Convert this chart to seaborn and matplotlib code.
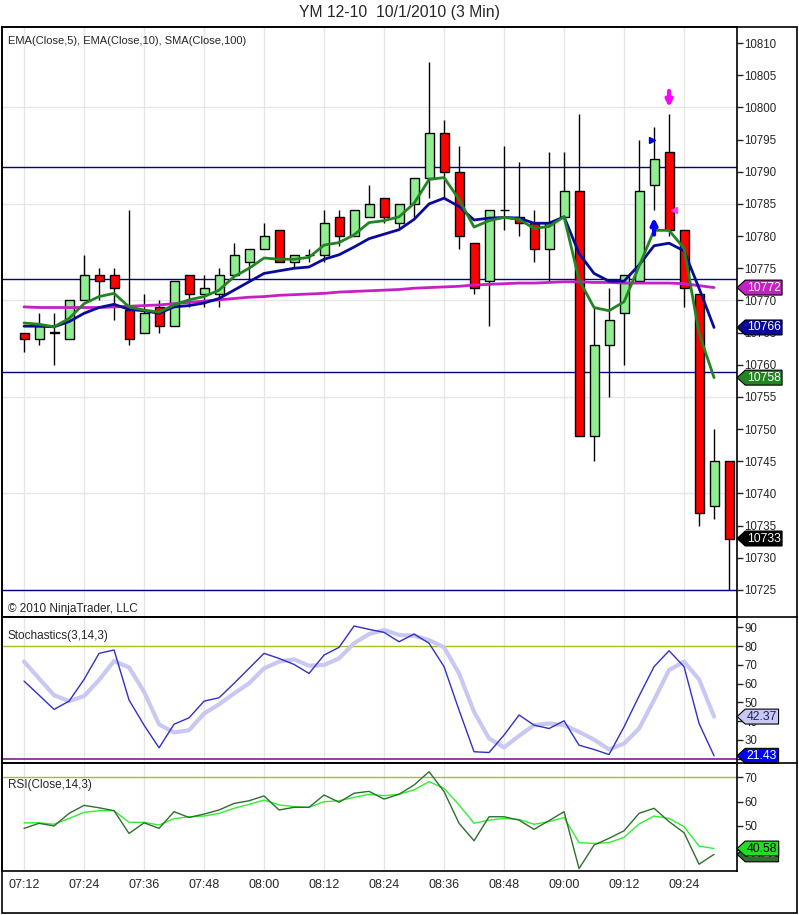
import numpy as np
import pandas as pd
import seaborn as sns
import matplotlib.pyplot as plt
from matplotlib.lines import Line2D
from matplotlib.patches import Rectangle
from matplotlib.path import Path

# --- data (3 min bars, 07:12 .. 09:33) ---
opens = [10765, 10764, 10765, 10764, 10770, 10774, 10774, 10768.5, 10765, 10769,
         10766, 10774, 10771, 10771, 10774, 10776, 10778, 10781, 10776, 10777,
         10777, 10783, 10780, 10783, 10786, 10782, 10785, 10789, 10796, 10790,
         10779, 10773, 10784, 10783, 10782, 10778, 10783, 10787, 10749, 10763,
         10768, 10773, 10788, 10793, 10781, 10771, 10738, 10745]
highs = [10765, 10768, 10768, 10770, 10777, 10775, 10775, 10784, 10771, 10770,
         10773, 10774, 10774, 10775, 10779, 10778, 10782, 10781, 10777, 10778,
         10784, 10784, 10784, 10788, 10786, 10785, 10789, 10807, 10798, 10794,
         10779, 10784, 10794, 10791.5, 10784, 10793, 10793, 10799, 10769, 10772,
         10774, 10795, 10797, 10799, 10781, 10771, 10750, 10745]
lows = [10762, 10763, 10760, 10764, 10770, 10770, 10767, 10763, 10765, 10765,
        10766, 10769, 10769, 10769, 10774, 10773, 10778, 10776, 10775, 10776,
        10776, 10778.5, 10780, 10783, 10782, 10781, 10783, 10786, 10786, 10778,
        10771, 10766, 10781, 10780, 10776, 10773, 10783, 10749, 10745, 10755,
        10760, 10773, 10784, 10780, 10769, 10735, 10736, 10725]
closes = [10764, 10766, 10765, 10770, 10774, 10773, 10772, 10764, 10768, 10766,
          10773, 10771, 10772, 10774, 10777, 10778, 10780, 10776, 10777, 10777,
          10782, 10780, 10784, 10785, 10783, 10785, 10789, 10796, 10790, 10780,
          10772, 10784, 10784, 10782, 10778, 10782, 10787, 10749, 10763, 10767,
          10774, 10787, 10792, 10781, 10772, 10737, 10745, 10733]

ema5 = [10766.5, 10766.3, 10765.9, 10767.2, 10769.5, 10770.6, 10771.1, 10769.0, 10768.5, 10768.2,
        10769.3, 10770.1, 10770.6, 10771.6, 10773.7, 10775.0, 10776.6, 10776.4, 10776.4, 10776.7,
        10778.6, 10779.0, 10780.2, 10782.1, 10782.4, 10783.0, 10785.1, 10788.8, 10789.1, 10785.7,
        10781.4, 10782.4, 10782.9, 10782.6, 10781.2, 10781.5, 10783.0, 10773.2, 10768.9, 10768.4,
        10769.8, 10775.3, 10780.9, 10780.9, 10778.1, 10764.9, 10758.0]
ema10 = [10766.0, 10766.0, 10765.9, 10766.7, 10768.0, 10768.9, 10769.4, 10768.6, 10768.4, 10768.0,
         10769.0, 10769.2, 10769.6, 10770.3, 10771.6, 10772.9, 10774.2, 10774.6, 10775.0, 10775.2,
         10776.4, 10777.1, 10778.3, 10779.6, 10780.3, 10781.0, 10782.6, 10785.0, 10785.9, 10784.6,
         10782.5, 10782.8, 10782.9, 10782.8, 10782.0, 10782.0, 10783.0, 10777.3, 10774.2, 10773.0,
         10773.0, 10775.5, 10778.5, 10778.9, 10777.7, 10771.9, 10765.8]
sma100 = [10769.0, 10768.9, 10768.9, 10768.9, 10768.9, 10768.9, 10769.0, 10769.1, 10769.2, 10769.3,
          10769.5, 10769.7, 10769.9, 10770.1, 10770.3, 10770.5, 10770.6, 10770.8, 10770.9, 10771.0,
          10771.1, 10771.3, 10771.4, 10771.5, 10771.6, 10771.7, 10771.9, 10772.0, 10772.1, 10772.2,
          10772.4, 10772.5, 10772.6, 10772.7, 10772.7, 10772.8, 10772.9, 10772.9, 10772.8, 10772.8,
          10772.7, 10772.7, 10772.7, 10772.7, 10772.6, 10772.3, 10772.0]
hlines = [10790.8, 10773.4, 10758.9, 10725.0]

stoch_d = [61.3, 53.8, 46.2, 50.6, 62.2, 76.1, 77.9, 51.2, 37.8, 25.7,
           38.3, 41.7, 50.6, 52.4, 60.1, 68.1, 76.1, 73.4, 70.2, 65.4,
           75.2, 79.3, 90.7, 88.9, 87.3, 82.3, 86.4, 81.5, 69.0, 45.8,
           23.6, 23.2, 32.5, 43.2, 37.8, 36.0, 40.1, 27.1, 24.8, 22.1,
           36.9, 53.3, 69.0, 77.5, 69.0, 38.7, 21.43]
stoch_k = [71.7, 62.7, 53.8, 50.6, 53.3, 61.9, 72.0, 68.6, 55.6, 38.2,
           33.9, 35.1, 44.0, 48.9, 54.7, 60.1, 68.1, 71.7, 72.9, 69.5,
           69.9, 73.4, 81.5, 86.4, 88.6, 85.9, 85.5, 83.2, 79.3, 65.4,
           44.9, 30.7, 25.9, 32.1, 37.8, 38.7, 37.8, 34.2, 30.1, 24.8,
           28.0, 36.0, 51.2, 67.2, 71.7, 62.2, 42.37]
rsi_dark = [48.9, 51.0, 49.9, 55.1, 58.4, 57.4, 56.2, 46.8, 51.2, 48.9,
            55.8, 53.4, 54.8, 56.5, 59.2, 60.3, 62.3, 56.5, 57.6, 57.6,
            62.7, 59.7, 63.4, 64.2, 61.0, 63.0, 66.8, 72.3, 64.1, 51.0,
            43.8, 53.7, 53.7, 52.3, 48.5, 52.1, 55.8, 32.3, 42.0, 44.8,
            47.9, 55.1, 57.2, 51.7, 47.1, 34.1, 38.18]
rsi_light = [51.2, 51.2, 50.6, 53.0, 55.5, 56.2, 56.2, 51.4, 51.4, 50.3,
             52.9, 53.7, 54.0, 55.1, 57.2, 58.8, 60.6, 58.6, 57.9, 57.6,
             59.9, 60.3, 61.7, 63.0, 62.4, 63.0, 64.8, 68.2, 65.4, 58.6,
             51.0, 52.3, 53.0, 52.6, 50.6, 51.7, 53.4, 43.0, 42.7, 43.0,
             45.2, 50.7, 54.0, 53.0, 49.6, 41.6, 40.58]

time_labels = ['07:12', '07:24', '07:36', '07:48', '08:00', '08:12',
               '08:24', '08:36', '08:48', '09:00', '09:12', '09:24']

sns.set_style("white")
plt.rcParams['font.family'] = ['Liberation Sans', 'DejaVu Sans']

bars = pd.DataFrame({'open': opens, 'high': highs, 'low': lows, 'close': closes})
bars['i'] = np.arange(len(bars))
ind = np.arange(len(ema5))

W, H = 799, 915
fig = plt.figure(figsize=(W / 100, H / 100), dpi=100)


def box(top, bottom):
    return [2 / W, 1 - bottom / H, 735 / W, (bottom - top) / H]


ax1 = fig.add_axes(box(27, 617))
ax2 = fig.add_axes(box(617, 763), sharex=ax1)
ax3 = fig.add_axes(box(763, 871), sharex=ax1)

GRID = '#e6e6e6'
for ax in (ax1, ax2, ax3):
    for g in range(0, 48, 4):
        ax.axvline(g, color=GRID, lw=1, zorder=0)
    for s in ax.spines.values():
        s.set_color('black')
        s.set_linewidth(1.2)
    ax.yaxis.tick_right()
    ax.tick_params(axis='y', direction='out', length=4, width=1, labelsize=8.3, pad=1.5)
    ax.tick_params(axis='x', length=0)

# --- price panel ---
for p in range(10725, 10811, 15):
    ax1.axhline(p, color=GRID, lw=1, zorder=0)
for p in hlines:
    ax1.axhline(p, color='#000080', lw=1, zorder=1)

up = bars['close'] >= bars['open']
ax1.vlines(bars['i'], bars['low'], bars['high'], color='black', lw=1, zorder=2)
body_lo = np.minimum(bars['open'], bars['close'])
body_h = np.maximum((bars['close'] - bars['open']).abs(), 0.12)
ax1.bar(bars['i'], body_h, bottom=body_lo, width=0.6,
        color=np.where(up, '#90ee90', '#ff0000'), edgecolor='black', lw=1, zorder=3)

sns.lineplot(x=ind, y=sma100, color='#c71fc7', lw=2, ax=ax1, zorder=4)
sns.lineplot(x=ind, y=ema10, color='#0a0a9a', lw=2, ax=ax1, zorder=5)
sns.lineplot(x=ind, y=ema5, color='#228522', lw=2, ax=ax1, zorder=6)

# signal markers
ax1.plot(41.85, 10795, marker='>', color='#0000e0', ms=5, zorder=7)
ax1.annotate('', xy=(42, 10783.3), xytext=(42, 10779.8),
             arrowprops=dict(arrowstyle='-|>', color='#0000ff', lw=3, mutation_scale=9), zorder=7)
ax1.annotate('', xy=(43, 10799.6), xytext=(43, 10803),
             arrowprops=dict(arrowstyle='-|>', color='#ff00ff', lw=3, mutation_scale=9), zorder=7)
ax1.plot(43.35, 10784, marker='<', color='#ff40ff', ms=5, zorder=7)

ax1.set_ylim(10720.8, 10812.5)
ax1.set_yticks(range(10725, 10811, 5))
ax1.set_xlim(-1.47, 47.53)
ax1.text(0.008, 0.985, 'EMA(Close,5), EMA(Close,10), SMA(Close,100)', transform=ax1.transAxes,
         fontsize=8, va='top', ha='left')
ax1.text(0.008, 0.004, '\u00a9 2010 NinjaTrader, LLC', transform=ax1.transAxes,
         fontsize=8.5, va='bottom', ha='left')

# --- stochastics panel ---
ax2.axhline(80, color='#a6c020', lw=1, zorder=1)
ax2.axhline(20, color='#8a1a9a', lw=1.2, zorder=1)
sns.lineplot(x=ind, y=stoch_k, color='#c8c8f2', lw=3, ax=ax2, zorder=2)
sns.lineplot(x=ind, y=stoch_d, color='#3030c8', lw=1, ax=ax2, zorder=3)
ax2.set_ylim(17.6, 95.5)
ax2.set_yticks(range(20, 91, 10))
ax2.text(0.008, 0.91, 'Stochastics(3,14,3)', transform=ax2.transAxes,
         fontsize=8.5, va='top', ha='left')

# --- RSI panel ---
ax3.axhline(70, color='#a6c020', lw=1, zorder=1)
sns.lineplot(x=ind, y=rsi_light, color='#33ee33', lw=1, ax=ax3, zorder=2)
sns.lineplot(x=ind, y=rsi_dark, color='#2e6f2e', lw=1, ax=ax3, zorder=3)
ax3.set_ylim(31.3, 75.9)
ax3.set_yticks([40, 50, 60, 70])
ax3.text(0.008, 0.85, 'RSI(Close,14,3)', transform=ax3.transAxes,
         fontsize=8.5, va='top', ha='left')

ax3.set_xticks(range(0, 48, 4))
ax3.set_xticklabels(time_labels, fontsize=9)
ax3.tick_params(axis='x', pad=6)
for ax in (ax1, ax2):
    ax.tick_params(axis='x', labelbottom=False)
for ax in (ax1, ax2, ax3):
    ax.set_xlabel('')
    ax.set_ylabel('')


def pentagon(x0, y0, width, height, mutation_size):
    # box with a pointed left side, like the price markers on the axis
    pad = 0.12 * mutation_size
    x0, y0 = x0 - pad, y0 - pad
    width, height = width + 2 * pad, height + 2 * pad
    tip = 0.55 * height
    verts = [(x0 - tip, y0 + height / 2), (x0, y0), (x0 + width, y0),
             (x0 + width, y0 + height), (x0, y0 + height), (x0 - tip, y0 + height / 2)]
    return Path(verts, closed=True)


def tag(ax, y, text, fc, tc):
    ax.annotate(text, xy=(1, y), xycoords=('axes fraction', 'data'), xytext=(7, 0),
                textcoords='offset points', ha='left', va='center', fontsize=8.8, color=tc,
                bbox=dict(boxstyle=pentagon, fc=fc, ec='black', lw=0.8),
                annotation_clip=False, zorder=10)


tag(ax1, sma100[-1], f'{sma100[-1]:.0f}', '#c71fc7', 'white')
tag(ax1, ema10[-1], f'{ema10[-1]:.0f}', '#0a0a9a', 'white')
tag(ax1, ema5[-1], f'{ema5[-1]:.0f}', '#228522', 'white')
tag(ax1, closes[-1], f'{closes[-1]:.0f}', 'black', 'white')
tag(ax2, stoch_k[-1], f'{stoch_k[-1]:.2f}', '#c8c8f2', '#202060')
tag(ax2, stoch_d[-1], f'{stoch_d[-1]:.2f}', '#0000ff', 'white')
tag(ax3, rsi_dark[-1], f'{rsi_dark[-1]:.2f}', '#2e6f2e', 'white')
tag(ax3, rsi_light[-1], f'{rsi_light[-1]:.2f}', '#22dd22', 'black')

# outer frame and panel separators
fig.add_artist(Rectangle((2 / W, 1 - 913 / H), 795 / W, 886 / H, transform=fig.transFigure,
                         fill=False, ec='black', lw=1.2))
for yy in (617, 763):
    fig.add_artist(Line2D([2 / W, 797 / W], [1 - yy / H] * 2, transform=fig.transFigure,
                          color='black', lw=1.2))

fig.text(0.5, 1 - 13 / H, 'YM 12-10  10/1/2010 (3 Min)', ha='center', va='center', fontsize=11.3)

fig.savefig('out.png', dpi=100)
